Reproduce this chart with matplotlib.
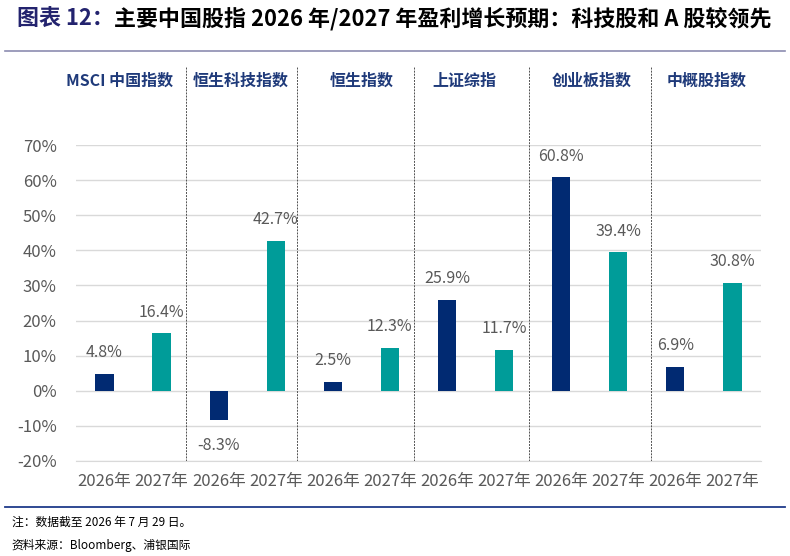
import matplotlib

matplotlib.use("Agg")
import matplotlib.pyplot as plt
from matplotlib.lines import Line2D
import numpy as np

plt.rcParams["font.family"] = ["Noto Sans CJK SC", "DejaVu Sans"]

# data
groups = ["MSCI 中国指数", "恒生科技指数", "恒生指数", "上证综指", "创业板指数", "中概股指数"]
years = ["2026年", "2027年"]
growth_2026 = [4.8, -8.3, 2.5, 25.9, 60.8, 6.9]
growth_2027 = [16.4, 42.7, 12.3, 11.7, 39.4, 30.8]
yticks = [-20, -10, 0, 10, 20, 30, 40, 50, 60, 70]

NAVY = "#012A72"
TEAL = "#009C99"
GRAY = "#595959"

fig = plt.figure(figsize=(7.9, 5.56), dpi=100)
ax = fig.add_axes([0.0962, 0.171, 0.867, 0.568])

n = len(groups)
x = np.arange(2 * n)
values = []
colors = []
for a, b in zip(growth_2026, growth_2027):
    values += [a, b]
    colors += [NAVY, TEAL]

ax.bar(x, values, width=0.32, color=colors, zorder=3)
for xi, v in zip(x, values):
    if v >= 0:
        ax.annotate(f"{v:.1f}%", (xi, v), xytext=(0, 9), textcoords="offset points",
                    ha="center", va="bottom", fontsize=11.5, color=GRAY)
    else:
        ax.annotate(f"{v:.1f}%", (xi, v), xytext=(0, -12), textcoords="offset points",
                    ha="center", va="top", fontsize=11.5, color=GRAY)

ax.set_xlim(-0.5, 2 * n - 0.5)
ax.set_ylim(-20, 70)
ax.set_yticks(yticks)
ax.set_yticklabels([f"{t}%" for t in yticks])
ax.set_xticks(x)
ax.set_xticklabels(years * n)
ax.tick_params(axis="both", length=0, labelsize=12, colors=GRAY)
ax.tick_params(axis="x", pad=9)
ax.tick_params(axis="y", pad=14)
ax.grid(axis="y", color="#D9D9D9", linewidth=1, zorder=0)
for s in ("top", "right", "left"):
    ax.spines[s].set_visible(False)
ax.spines["bottom"].set_color("#D9D9D9")

# dashed group dividers, reaching up into the header row
for dx in [1.43, 3.38, 5.43, 7.43, 9.57]:
    ax.plot([dx, dx], [0, 1.25], transform=ax.get_xaxis_transform(), clip_on=False,
            color="#505050", linestyle=(0, (2, 1.2)), linewidth=0.7, zorder=2)

label_x = [0.27, 2.38, 4.5, 6.31, 8.54, 10.55]
for gx, g in zip(label_x, groups):
    ax.text(gx, 1.205, g, transform=ax.get_xaxis_transform(), ha="center", va="center",
            fontsize=11.5, fontweight="bold", color="#1F3A7A")

# title
t1 = fig.text(0.022, 0.965, "图表 12：", fontsize=15.8, fontweight="bold", color="#23236E",
              va="center")
ax.annotate("主要中国股指 2026 年/2027 年盈利增长预期：科技股和 A 股较领先",
            xy=(1, 0), xycoords=t1, va="bottom", ha="left",
            fontsize=15.8, fontweight="bold", color="black", annotation_clip=False)

fig.add_artist(Line2D([0.006, 0.994], [1 - 51 / 556] * 2, color="#8C8CB0", linewidth=1.2))
fig.add_artist(Line2D([0.006, 0.994], [1 - 507 / 556] * 2, color="#1F3A8A", linewidth=1.3))

fig.text(0.015, 1 - 522 / 556, "注：数据截至 2026 年 7 月 29 日。", fontsize=8.5, va="center")
fig.text(0.015, 1 - 545 / 556, "资料来源：Bloomberg、浦银国际", fontsize=8.5, va="center")

fig.savefig("out.png", dpi=100)
plt.close(fig)
